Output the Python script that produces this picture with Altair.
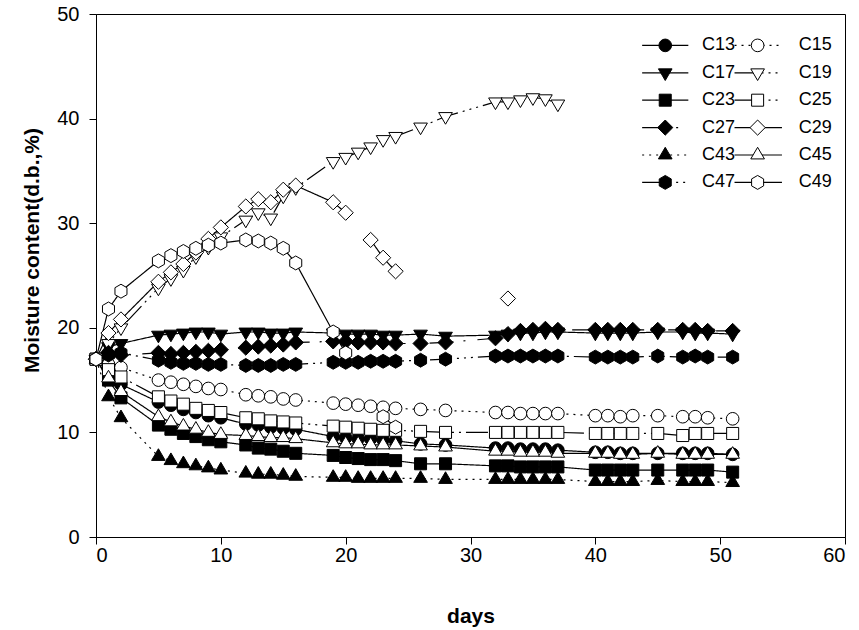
import altair as alt
import pandas as pd

FONT = "Liberation Sans"

# Sampling days shared by the long-running series
DAYS = [0, 1, 2, 5, 6, 7, 8, 9, 10, 12, 13, 14, 15, 16, 19, 20, 21, 22, 23, 24,
        26, 28, 32, 33, 34, 35, 36, 37, 40, 41, 42, 43, 45, 47, 48, 49, 51]

# Moisture content (d.b., %) per sample; None = no reading on that day
C13 = [17.0, 16.0, 14.6, 12.9, 12.6, 12.2, 11.9, 11.6, 11.4, 10.8, 10.7, 10.5, 10.4, 10.3,
       9.6, 9.5, 9.4, 9.4, 9.3, 9.2, 8.9, 8.8, 8.5, 8.5, 8.4, 8.4, 8.4, 8.3,
       8.1, 8.1, 8.0, 8.0, 8.0, 8.0, 8.0, 8.0, 7.9]
C15 = [17.0, 16.5, 16.2, 15.0, 14.8, 14.6, 14.4, 14.2, 14.1, 13.6, 13.5, 13.4, 13.2, 13.1,
       12.8, 12.7, 12.6, 12.5, 12.4, 12.3, 12.2, 12.1, 11.9, 11.9, 11.8, 11.8, 11.8, 11.8,
       11.6, 11.6, 11.5, 11.6, 11.6, 11.5, 11.5, 11.4, 11.3]
C17 = [17.0, 18.2, 18.5, 19.3, 19.4, 19.5, 19.6, 19.6, 19.4, 19.6, 19.6, 19.5, 19.5, 19.6,
       19.5, 19.4, 19.4, 19.4, 19.3, 19.3, 19.4, 19.2, 19.3, 19.4, 19.5, 19.5, 19.6, 19.6,
       19.5, 19.5, 19.5, 19.5, 19.6, 19.6, 19.5, 19.5, 19.4]
C19 = [17.0, 18.5, 20.0, 23.8, 24.7, 25.5, 26.8, 27.7, 28.7, 30.3, 31.0, 30.5, 32.6, 33.4,
       35.9, 36.3, 36.8, 37.3, 38.0, 38.3, 39.2, 40.2, 41.6, 41.6, 41.8, 42.0, 41.9, 41.4]
C23 = [17.0, 15.0, 13.3, 10.7, 10.3, 9.9, 9.6, 9.3, 9.1, 8.8, 8.5, 8.4, 8.2, 8.0,
       7.8, 7.6, 7.5, 7.4, 7.4, 7.3, 7.0, 7.0, 6.8, 6.8, 6.7, 6.7, 6.7, 6.7,
       6.4, 6.4, 6.4, 6.4, 6.4, 6.4, 6.4, 6.4, 6.2]
C25 = [17.0, 16.0, 15.3, 13.4, 13.0, 12.7, 12.3, 12.1, 11.9, 11.4, 11.3, 11.1, 11.0, 10.9,
       10.6, 10.5, 10.4, 10.3, 10.2, 10.2, 10.1, 10.0, 10.0, 10.0, 10.0, 10.0, 10.0, 10.0,
       9.9, 9.9, 9.9, 9.9, 9.9, 9.7, 9.9, 9.9, 9.9]
C27 = [17.0, 17.6, 17.4, 17.6, 17.5, 17.6, 17.7, 17.8, 17.9, 18.1, 18.2, 18.3, 18.4, 18.6,
       18.7, 18.7, 18.6, 18.6, 18.6, 18.5, 18.5, 18.6, 19.0, 19.4, 19.7, 19.8, 19.9, 19.8,
       19.8, 19.8, 19.8, 19.8, 19.8, 19.8, 19.8, 19.7, 19.7]
C29 = [17.0, 19.5, 20.8, 24.4, 25.3, 26.1, 27.2, 28.5, 29.6, 31.6, 32.3, 32.0, 33.2, 33.6,
       32.0, 31.0, None, 28.4, 26.7, 25.4, None, None, None, 22.8]
C43 = [17.0, 13.4, 11.4, 7.7, 7.3, 7.0, 6.8, 6.6, 6.4, 6.1, 6.0, 6.0, 5.9, 5.8,
       5.7, 5.7, 5.6, 5.6, 5.6, 5.6, 5.6, 5.5, 5.5, 5.5, 5.5, 5.5, 5.5, 5.5,
       5.3, 5.3, 5.3, 5.3, 5.4, 5.3, 5.3, 5.3, 5.2]
C45 = [17.0, 15.2, 13.9, 11.5, 11.0, 10.6, 10.3, 10.0, 9.8, 9.7, 9.6, 9.5, 9.5, 9.4,
       9.0, 8.9, 8.9, 8.8, 8.8, 8.8, 8.7, 8.6, 8.2, 8.2, 8.1, 8.1, 8.1, 8.0,
       8.0, 8.0, 7.9, 7.9, 8.0, 7.9, 7.9, 7.9, 7.9]
C47 = [17.0, 17.4, 17.6, 16.9, 16.7, 16.6, 16.6, 16.5, 16.5, 16.4, 16.4, 16.4, 16.5, 16.5,
       16.7, 16.7, 16.7, 16.8, 16.8, 16.8, 16.9, 17.0, 17.3, 17.3, 17.3, 17.3, 17.3, 17.3,
       17.2, 17.2, 17.2, 17.2, 17.3, 17.2, 17.3, 17.2, 17.2]
C49 = [17.0, 21.8, 23.5, 26.4, 26.9, 27.3, 27.6, 27.9, 28.1, 28.4, 28.3, 28.1, 27.6, 26.2,
       19.6, 17.6, None, None, 11.5, 10.5]

SERIES = ["C13", "C15", "C17", "C19", "C23", "C25", "C27", "C29", "C43", "C45", "C47", "C49"]
MOISTURE = {"C13": C13, "C15": C15, "C17": C17, "C19": C19, "C23": C23, "C25": C25,
            "C27": C27, "C29": C29, "C43": C43, "C45": C45, "C47": C47, "C49": C49}

# Symbol outlines (unit paths, scaled by the mark size)
SQUARE = "M-0.95,-0.95H0.95V0.95H-0.95Z"
TRI_DOWN = "M-1.08,-0.62L1.08,-0.62L0,1.22Z"
TRI_UP = "M0,-1.22L1.08,0.62L-1.08,0.62Z"
DIAMOND = "M0,-1.2L1.2,0L0,1.2L-1.2,0Z"
HEXAGON = "M0,-1.1L0.95,-0.55L0.95,0.55L0,1.1L-0.95,0.55L-0.95,-0.55Z"

SHAPES = ["circle", "circle", TRI_DOWN, TRI_DOWN, SQUARE, SQUARE,
          DIAMOND, DIAMOND, TRI_UP, TRI_UP, HEXAGON, HEXAGON]
FILLS = ["black", "white"] * 6

SOLID = [1, 0]
DOTTED = [2, 5]
DASH_DOT = [24, 10, 2, 12]
DASH_DOT_DOT = [22, 5, 2, 5, 2, 5, 2, 5]
DASHES = [SOLID, DOTTED, SOLID, DASH_DOT_DOT, SOLID, DASH_DOT_DOT,
          DASH_DOT, SOLID, DOTTED, SOLID, DASH_DOT_DOT, SOLID]

LEGEND_LEFT = ["C13", "C17", "C23", "C27", "C43", "C47"]
LEGEND_RIGHT = ["C15", "C19", "C25", "C29", "C45", "C49"]

# Legend layout in data units: (line start, line end, symbol, label start)
LEG_TOP, LEG_STEP = 47.0, 2.62
LEG_COLS = [(43.75, 47.45, 45.6, 48.55), (51.15, 54.95, 53.0, 56.3)]

points, paths, labels = [], [], []
for name in SERIES:
    seg = 0
    for d, v in zip(DAYS, MOISTURE[name]):
        if v is None:
            seg += 1
            continue
        points.append({"series": name, "day": d, "mc": v})
        paths.append({"series": name, "path": f"{name}-{seg}", "day": d, "mc": v})

for col, names in enumerate([LEGEND_LEFT, LEGEND_RIGHT]):
    x0, x1, xs, xl = LEG_COLS[col]
    for row, name in enumerate(names):
        y = LEG_TOP - row * LEG_STEP
        paths.append({"series": name, "path": f"{name}-key", "day": x0, "mc": y})
        paths.append({"series": name, "path": f"{name}-key", "day": x1, "mc": y})
        points.append({"series": name, "day": xs, "mc": y})
        labels.append({"series": name, "day": xl, "mc": y})

points = pd.DataFrame(points)
paths = pd.DataFrame(paths)
labels = pd.DataFrame(labels)

x_enc = alt.X("day:Q", scale=alt.Scale(domain=[0, 60], nice=False),
              axis=alt.Axis(values=list(range(0, 61, 10)), title="days",
                            labelPadding=1, titlePadding=40))
y_enc = alt.Y("mc:Q", scale=alt.Scale(domain=[0, 50], nice=False),
              axis=alt.Axis(values=list(range(0, 51, 10)), title="Moisture content(d.b.,%)",
                            labelPadding=10, titlePadding=14, titleY=236))

lines = alt.Chart(paths).mark_line(color="black", strokeWidth=1.2).encode(
    x=x_enc, y=y_enc,
    detail="path:N",
    strokeDash=alt.StrokeDash("series:N", scale=alt.Scale(domain=SERIES, range=DASHES), legend=None),
)

marks = alt.Chart(points).mark_point(filled=True, size=160, stroke="black", strokeWidth=1,
                                     opacity=1).encode(
    x=x_enc, y=y_enc,
    shape=alt.Shape("series:N", scale=alt.Scale(domain=SERIES, range=SHAPES), legend=None),
    fill=alt.Fill("series:N", scale=alt.Scale(domain=SERIES, range=FILLS), legend=None),
)

texts = alt.Chart(labels).mark_text(align="left", baseline="middle", font=FONT, fontSize=18,
                                    color="black").encode(
    x=x_enc, y=y_enc, text="series:N",
)

chart = alt.layer(lines, marks, texts).properties(
    width=749, height=523,
    autosize=alt.AutoSizeParams(type="none"),
    padding={"left": 96, "top": 14, "right": 14, "bottom": 93},
).configure_view(
    stroke="black", strokeWidth=1,
).configure_axis(
    grid=False, domainColor="black", domainWidth=1, tickColor="black", tickWidth=1,
    tickSize=7, labelFont=FONT, labelFontSize=20, labelColor="black",
    titleFont=FONT, titleFontSize=21, titleFontWeight="bold", titleColor="black",
)

chart.save("out.html", embed_options={"renderer": "svg", "actions": False})
